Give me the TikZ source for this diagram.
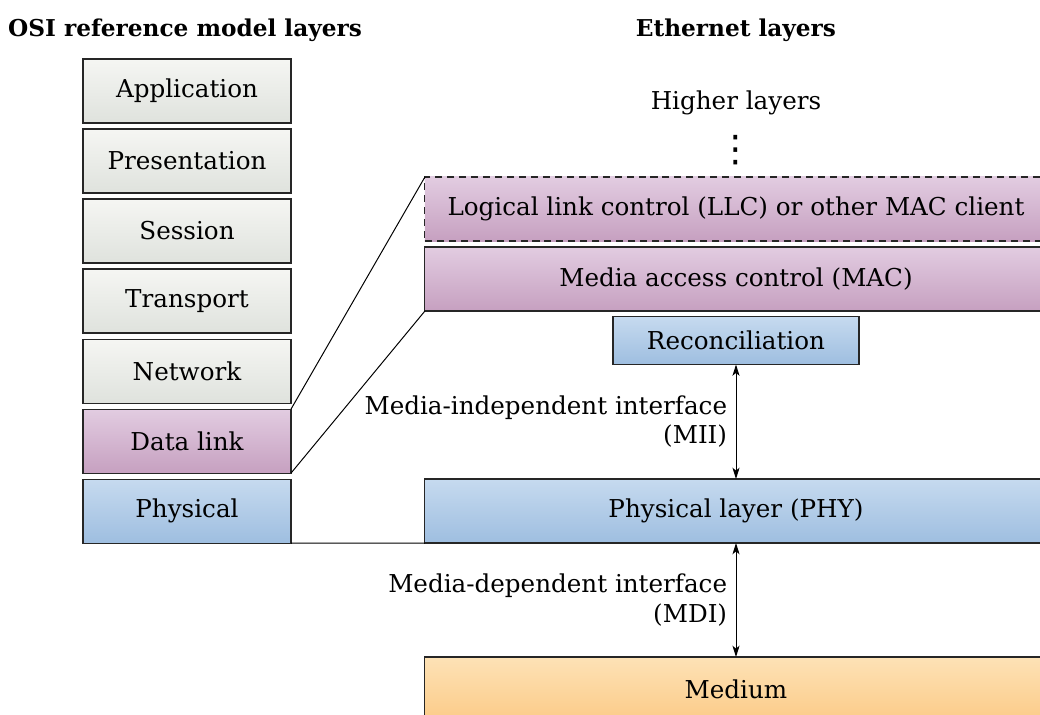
\documentclass[tikz,border=0pt]{standalone}
\usepackage{fontspec}
\setmainfont{DejaVu Serif}
\newfontfamily\symfont{DejaVu Sans}
\usepackage{tikz}
\usetikzlibrary{shapes,arrows.meta,positioning,calc}

\definecolor{grayTop}{HTML}{F5F6F3}
\definecolor{grayBot}{HTML}{DFE2DD}
\definecolor{purpTop}{HTML}{E2CCE1}
\definecolor{purpBot}{HTML}{C6A0C0}
\definecolor{blueTop}{HTML}{C6DAEF}
\definecolor{blueBot}{HTML}{9EBEE0}
\definecolor{orngTop}{HTML}{FDE2B6}
\definecolor{orngBot}{HTML}{FCCB88}

\begin{document}
\begin{tikzpicture}[
    x=0.025cm, y=-0.025cm,
    node distance=0.15cm,
    font=\fontsize{17.5}{21}\selectfont,
    layer/.style={rectangle, draw=black!85, line width=0.8pt, outer sep=0pt, minimum width=5.2cm, minimum height=1.6cm, inner sep=0pt},
    osigray/.style={layer, top color=grayTop, bottom color=grayBot},
    osipurple/.style={layer, top color=purpTop, bottom color=purpBot},
    osiblue/.style={layer, top color=blueTop, bottom color=blueBot},
    wide/.style={layer, minimum width=15.55cm},
    title/.style={font=\fontsize{16.5}{20}\selectfont\bfseries},
    link/.style={draw, line width=0.7pt},
    iface/.style={draw, line width=0.7pt, {Stealth[length=8pt,width=5pt,inset=2pt]}-{Stealth[length=8pt,width=5pt,inset=2pt]}}
]
\useasboundingbox (0,0) rectangle (1040,715);

% Titles
\node [title] (osititle) at (185,30) {OSI reference model layers};
\node [title] (ethtitle) at (736,30) {Ethernet layers};

% OSI stack
\node [osigray] (app) at (187,91) {Application};
\node [osigray, below=of app] (pres) {Presentation};
\node [osigray, below=of pres] (sess) {Session};
\node [osigray, below=of sess] (trans) {Transport};
\node [osigray, below=of trans] (net) {Network};
\node [osipurple, below=of net] (datalink) {Data link};
\node [osiblue, below=of datalink] (phys) {Physical};

% Ethernet stack
\node (higher) at (736,103) {Higher layers};
\node [font=\symfont\fontsize{26}{26}\selectfont] (dots) at (736,150) {⋮};
\node [wide, dash pattern=on 5pt off 3.5pt, top color=purpTop, bottom color=purpBot] (llc) at (736,209) {Logical link control (LLC) or other MAC client};
\node [wide, top color=purpTop, bottom color=purpBot] (mac) at (736,279) {Media access control (MAC)};
\node [layer, minimum width=6.15cm, minimum height=1.2cm, top color=blueTop, bottom color=blueBot] (recon) at (736,340.5) {Reconciliation};
\node [wide, top color=blueTop, bottom color=blueBot] (phy) at (736,511) {Physical layer (PHY)};
\node [wide, top color=orngTop, bottom color=orngBot] (medium) at (736,689) {Medium};

% Expansion lines
\path [link] (datalink.north east) -- (llc.north west);
\path [link] (datalink.south east) -- (mac.south west);
\path [link] (phys.south east) -- (phy.south west);

% Interfaces
\path [iface] (recon.south) -- node[left, align=right, inner sep=6pt] {Media-independent interface\\(MII)} (phy.north);
\path [iface] (phy.south) -- node[left, align=right, inner sep=6pt] {Media-dependent interface\\(MDI)} (medium.north);

\end{tikzpicture}
\end{document}
